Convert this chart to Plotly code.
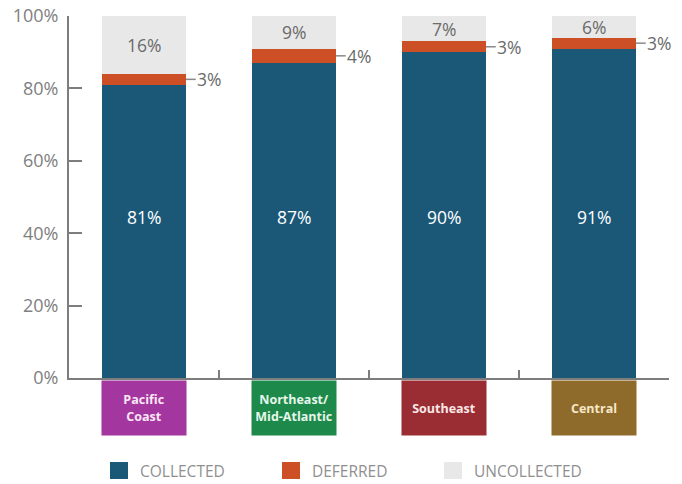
import plotly.graph_objects as go

# Regional collection shares (percent of total)
regions = ["Pacific Coast", "Northeast/Mid-Atlantic", "Southeast", "Central"]
region_labels = ["Pacific<br>Coast", "Northeast/<br>Mid-Atlantic", "Southeast", "Central"]
collected = [81, 87, 90, 91]
deferred = [3, 4, 3, 3]
uncollected = [16, 9, 7, 6]

series_names = ["COLLECTED", "DEFERRED", "UNCOLLECTED"]
series_colors = ["#1b5878", "#cc4f26", "#e8e8e8"]
region_colors = ["#a3379f", "#1d8a4b", "#9a2c33", "#8e6b2b"]
region_text_colors = ["#fbe6f6", "#e6f6ea", "#fbe8e6", "#f6e8c8"]

y_ticks = [0, 20, 40, 60, 80, 100]
y_tick_labels = [f"{v}%" for v in y_ticks]

FONT = "Open Sans"
GRAY = "#7d7d7d"

fig = go.Figure()
for name, vals, color in zip(series_names, [collected, deferred, uncollected], series_colors):
    fig.add_trace(go.Bar(x=regions, y=vals, name=name, marker_color=color,
                         marker_line_width=0, showlegend=False))

# plot-area pixel geometry, used for legend placement in paper coordinates
L, R, T, B, W, H = 69, 13, 16, 106, 682, 484
pw, ph = W - L - R, H - T - B


def px(x):
    return (x - L) / pw


def py(y):
    return (H - B - y) / ph


annotations = []
shapes = []
for i, reg in enumerate(regions):
    c, d, u = collected[i], deferred[i], uncollected[i]
    # collected share, white, at a common height
    annotations.append(dict(x=reg, y=44.5, text=f"{c}%", showarrow=False,
                            font=dict(family=FONT, size=17.5, color="white")))
    # uncollected share, centred in its segment
    annotations.append(dict(x=reg, y=c + d + u / 2, text=f"{u}%", showarrow=False,
                            font=dict(family=FONT, size=17.5, color="#6b6b6b")))
    # deferred share with a short leader line to the right of the bar
    shapes.append(dict(type="line", xref="x", yref="y", x0=reg, x1=reg,
                       x0shift=0.28, x1shift=0.345, y0=c + d / 2, y1=c + d / 2,
                       line=dict(color="#8a8a8a", width=1.5)))
    annotations.append(dict(x=reg, y=c + d / 2, text=f"{d}%", showarrow=False,
                            xanchor="left", xshift=51,
                            font=dict(family=FONT, size=17.5, color="#6b6b6b")))
    # coloured region label box under the bar
    annotations.append(dict(x=reg, y=0, yref="y", text=f"<b>{region_labels[i]}</b>",
                            showarrow=False, yanchor="top", yshift=-2,
                            width=84, height=54, borderpad=0, bgcolor=region_colors[i],
                            align="center", valign="middle",
                            font=dict(family=FONT, size=12.5, color=region_text_colors[i])))

# legend row
legend_x = [110, 282, 444]
for lx, name, color in zip(legend_x, series_names, series_colors):
    shapes.append(dict(type="rect", xref="paper", yref="paper",
                       x0=px(lx), x1=px(lx + 18), y0=py(479), y1=py(462),
                       fillcolor=color, line_width=0))
    annotations.append(dict(xref="paper", yref="paper", x=px(lx + 28), y=py(471),
                            text=name, showarrow=False, xanchor="left", yanchor="middle",
                            font=dict(family=FONT, size=15.5, color="#8f8f8f")))

fig.update_layout(
    barmode="stack",
    bargap=0.44,
    width=W, height=H,
    margin=dict(l=L, r=R, t=T, b=B, autoexpand=False),
    plot_bgcolor="white", paper_bgcolor="white",
    annotations=annotations,
    shapes=shapes,
    xaxis=dict(type="category", range=[-0.5, 3.5], showticklabels=False,
               showline=True, linecolor=GRAY, linewidth=2, automargin=False,
               ticks="inside", tickson="boundaries", ticklen=8, tickwidth=2,
               tickcolor=GRAY, showgrid=False, zeroline=False),
    yaxis=dict(range=[0, 100], tickmode="array", tickvals=y_ticks, ticktext=y_tick_labels,
               showline=True, linecolor=GRAY, linewidth=2, automargin=False,
               ticks="inside", ticklen=13, tickwidth=2, tickcolor=GRAY,
               ticklabelstandoff=5,
               tickfont=dict(family=FONT, size=18, color="#808080"),
               showgrid=False, zeroline=False),
)

fig.write_html("out.html")
